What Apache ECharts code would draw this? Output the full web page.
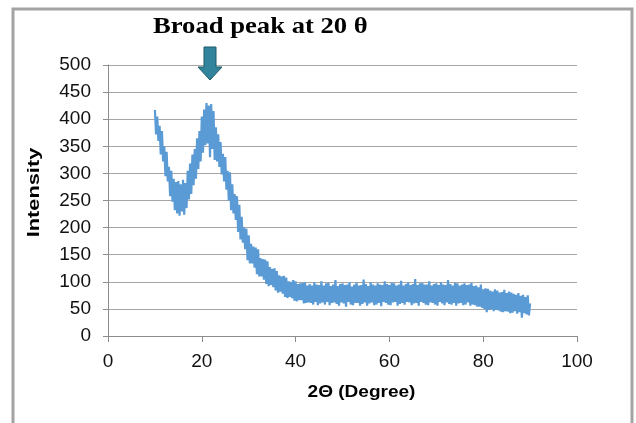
<!DOCTYPE html>
<html>
<head>
<meta charset="UTF-8">
<title>Broad peak at 20 θ</title>
<script src="https://cdn.jsdelivr.net/npm/echarts@6.0.0/dist/echarts.min.js"></script>
<style>
  html, body { margin: 0; padding: 0; background: #fff; }
  #chart { width: 636px; height: 423px; }
</style>
</head>
<body>
<div id="chart"></div>
<script>
  // scan settings (2θ, degree)
  var scanStart = 10;
  var scanStep = 0.25;

  // intensity, 4 points per degree, 10 -> 90
  var intensity = [
    417, 372, 405, 360,   // 10
    388, 335, 378, 322,   // 11
    350, 295, 340, 285,   // 12
    312, 258, 305, 248,   // 13
    290, 232, 284, 226,   // 14
    286, 222, 280, 230,   // 15
    288, 224, 282, 236,   // 16
    305, 252, 318, 262,   // 17
    335, 278, 345, 290,   // 18
    365, 308, 378, 322,   // 19
    405, 338, 418, 352,   // 20
    430, 355, 425, 330,   // 21
    428, 345, 415, 325,   // 22
    385, 322, 372, 312,   // 23
    358, 298, 336, 285,   // 24
    330, 270, 305, 250,   // 25
    302, 232, 280, 226,   // 26
    262, 214, 258, 192,   // 27
    242, 178, 220, 172,   // 28
    200, 160, 198, 140,   // 29
    186, 134, 170, 134,   // 30
    165, 126, 163, 114,   // 31
    160, 110, 144, 110,   // 32
    142, 104, 141, 96,    // 33
    138, 92, 127, 94,     // 34
    124, 90, 125, 84,     // 35
    120, 80, 112, 82,     // 36
    110, 78, 111, 72,     // 37
    108, 70, 101, 72,     // 38
    100, 70, 103, 65,     // 39
    101, 64, 96, 66,      // 40
    97, 66, 98, 60,       // 41
    99, 61, 93, 62,       // 42
    96, 61, 93, 58,       // 43
    99, 63, 95, 57,       // 44
    94, 60, 101, 62,      // 45
    93, 58, 97, 63,       // 46
    98, 57, 92, 61,       // 47
    95, 62, 103, 59,      // 48
    92, 56, 96, 62,       // 49
    97, 60, 94, 54,       // 50
    95, 63, 99, 58,       // 51
    91, 57, 95, 61,       // 52
    98, 61, 93, 56,       // 53
    94, 59, 104, 62,      // 54
    96, 56, 92, 60,       // 55
    99, 62, 95, 57,       // 56
    93, 58, 97, 61,       // 57
    95, 55, 94, 63,       // 58
    101, 61, 96, 58,      // 59
    94, 57, 98, 62,       // 60
    97, 63, 93, 56,       // 61
    95, 59, 102, 61,      // 62
    93, 58, 96, 63,       // 63
    99, 62, 94, 57,       // 64
    96, 60, 105, 61,      // 65
    94, 56, 97, 63,       // 66
    98, 61, 95, 58,       // 67
    95, 57, 101, 62,      // 68
    93, 61, 96, 58,       // 69
    97, 56, 94, 63,       // 70
    99, 60, 95, 57,       // 71
    94, 62, 103, 59,      // 72
    96, 58, 93, 61,       // 73
    98, 56, 97, 60,       // 74
    93, 61, 95, 57,       // 75
    97, 58, 94, 62,       // 76
    95, 56, 98, 58,       // 77
    92, 57, 93, 54,       // 78
    90, 54, 95, 52,       // 79
    86, 50, 88, 44,       // 80
    87, 48, 84, 50,       // 81
    82, 46, 86, 48,       // 82
    84, 47, 80, 45,       // 83
    81, 44, 85, 46,       // 84
    79, 45, 82, 42,       // 85
    80, 43, 78, 46,       // 86
    76, 41, 79, 44,       // 87
    74, 34, 76, 42,       // 88
    72, 40, 75, 38,       // 89
    60                    // 90
  ];

  var chartTitle = 'Broad peak at 20 θ';
  var xName = '2Θ (Degree)';
  var yName = 'Intensity';

  var points = intensity.map(function (v, i) {
    return [scanStart + i * scanStep, v];
  });

  var chart = echarts.init(document.getElementById('chart'));

  var labelFont = 'Liberation Sans, Arial, sans-serif';

  var option = {
    backgroundColor: '#fff',
    animation: false,
    grid: { left: 108, right: 59, top: 65, bottom: 87 },
    xAxis: {
      type: 'value',
      min: 0, max: 100, interval: 20,
      axisLine: { show: true, lineStyle: { color: '#8c8c8c', width: 1 } },
      axisTick: { show: true, inside: false, length: 6, lineStyle: { color: '#8c8c8c' } },
      axisLabel: { fontFamily: labelFont, fontSize: 19, color: '#111', margin: 16 },
      splitLine: { show: false }
    },
    yAxis: {
      type: 'value',
      min: 0, max: 500, interval: 50,
      axisLine: { show: true, lineStyle: { color: '#8c8c8c', width: 1 } },
      axisTick: { show: true, inside: false, length: 5, lineStyle: { color: '#8c8c8c' } },
      axisLabel: { fontFamily: labelFont, fontSize: 19, color: '#111', margin: 17 },
      splitLine: { show: true, lineStyle: { color: '#a6a6a6', width: 1 } }
    },
    series: [{
      type: 'line',
      data: points,
      showSymbol: false,
      symbol: 'none',
      smooth: false,
      lineStyle: { color: '#5b9bd5', width: 2.2 },
      z: 3
    }],
    graphic: [
      // frame
      {
        type: 'rect', silent: true,
        shape: { x: 13, y: 9, width: 619, height: 430 },
        style: { fill: 'none', stroke: '#a3a3a3', lineWidth: 3 }
      },
      // title
      {
        type: 'text', x: 153, y: 15, scaleX: 1.11,
        style: {
          text: chartTitle,
          font: 'bold 24px "Liberation Serif", "Times New Roman", serif',
          fill: '#000',
          verticalAlign: 'top'
        }
      },
      // arrow
      {
        type: 'polygon',
        shape: { points: [[204, 47], [216, 47], [216, 67], [222, 67], [210, 80], [198, 67], [204, 67]] },
        style: { fill: '#31849b', stroke: '#1d5966', lineWidth: 1 },
        z: 10
      },
      // x axis name
      {
        type: 'text', x: 361.5, y: 392, scaleX: 1.12,
        style: {
          text: xName,
          font: 'bold 17px ' + labelFont,
          fill: '#000',
          align: 'center',
          verticalAlign: 'middle'
        }
      },
      // y axis name
      {
        type: 'text', x: 34, y: 192.5, rotation: Math.PI / 2, scaleX: 1.28,
        style: {
          text: yName,
          font: 'bold 17px ' + labelFont,
          fill: '#000',
          align: 'center',
          verticalAlign: 'middle'
        }
      }
    ]
  };

  chart.setOption(option);
</script>
</body>
</html>
